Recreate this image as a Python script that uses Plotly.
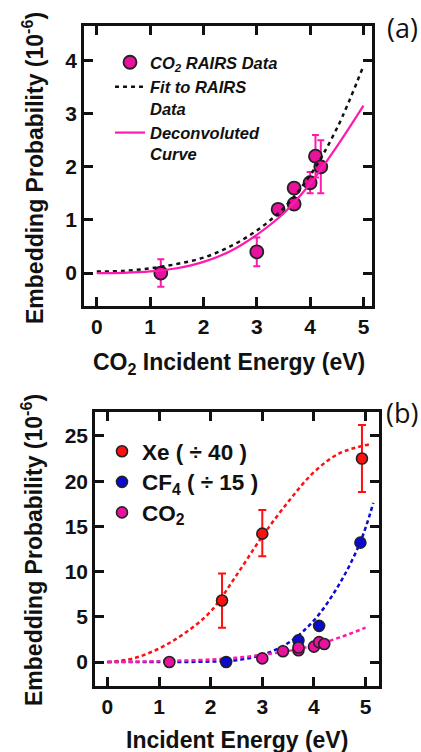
import plotly.graph_objects as go

# ---------------- data ----------------
# Panel (a): CO2 RAIRS data
co2_x = [1.2, 3.0, 3.4, 3.7, 3.7, 4.0, 4.1, 4.2]
co2_y = [0.0, 0.4, 1.2, 1.3, 1.6, 1.7, 2.2, 2.0]
co2_err = [0.26, 0.27, 0.1, 0.1, 0.1, 0.2, 0.4, 0.5]

# fit to RAIRS data (dashed black) and deconvoluted curve (solid magenta)
curve_x = [0, 0.5, 1.0, 1.5, 2.0, 2.5, 3.0, 3.5, 4.0, 4.5, 5.0]
fit_y = [0.03, 0.04, 0.09, 0.17, 0.29, 0.5, 0.8, 1.22, 1.84, 2.72, 3.9]
deconv_y = [0.0, 0.005, 0.03, 0.09, 0.21, 0.41, 0.72, 1.12, 1.68, 2.38, 3.15]

# Panel (b)
xe_x = [2.22, 3.0, 4.93]
xe_y = [6.8, 14.2, 22.5]
xe_err_plus = [3.0, 2.6, 3.7]
xe_err_minus = [3.0, 2.5, 3.7]
xe_fit_x = [0, 0.5, 1.0, 1.5, 2.0, 2.5, 3.0, 3.5, 4.0, 4.5, 5.1]
xe_fit_y = [0.0, 0.4, 1.5, 3.2, 5.6, 9.6, 13.9, 17.7, 21.0, 23.1, 24.1]

cf4_x = [2.3, 3.7, 4.1, 4.9]
cf4_y = [0.0, 2.4, 4.0, 13.2]
cf4_fit_x = [0, 1.0, 2.0, 2.5, 3.0, 3.5, 4.0, 4.5, 4.9, 5.15]
cf4_fit_y = [0.0, 0.0, 0.05, 0.2, 0.8, 2.1, 4.6, 8.7, 13.3, 17.6]

co2b_fit_x = [0, 1.0, 2.0, 2.5, 3.0, 3.5, 4.0, 4.5, 5.0]
co2b_fit_y = [0.0, 0.09, 0.28, 0.48, 0.8, 1.22, 1.84, 2.72, 3.8]

a_xticks = [0, 1, 2, 3, 4, 5]
a_yticks = [0, 1, 2, 3, 4]
b_xticks = [0, 1, 2, 3, 4, 5]
b_yticks = [0, 5, 10, 15, 20, 25]

MAG = "#ff1aad"
MAGM = "#e8129f"
RED = "#ff1010"
BLUE = "#0a0ad0"
FONT = "Liberation Sans"

def big(t):
    return '<span style="font-size:22.5px">' + t + "</span>"

fig = go.Figure()

# ---------- panel (a) ----------
fig.add_trace(go.Scatter(
    x=co2_x, y=co2_y, mode="markers", name="<b><i>CO<sub>2</sub> RAIRS Data</i></b>",
    error_y=dict(type="data", array=co2_err, color=MAG, thickness=2, width=3.5),
    marker=dict(color=MAGM, size=13, line=dict(color="#222", width=1.8)),
    xaxis="x", yaxis="y", legend="legend", showlegend=True))
fig.add_trace(go.Scatter(
    x=curve_x, y=fit_y, mode="lines", name="<b><i>Fit to RAIRS<br>Data</i></b>",
    line=dict(color="#111", width=2.5, dash="4px,4px", shape="spline"),
    xaxis="x", yaxis="y", legend="legend"))
fig.add_trace(go.Scatter(
    x=curve_x, y=deconv_y, mode="lines", name="<b><i>Deconvoluted<br>Curve</i></b>",
    line=dict(color=MAG, width=2.2, shape="spline"),
    xaxis="x", yaxis="y", legend="legend"))

# ---------- panel (b) ----------
fig.add_trace(go.Scatter(
    x=xe_fit_x, y=xe_fit_y, mode="lines", showlegend=False,
    line=dict(color=RED, width=2.5, dash="4px,3px", shape="spline"),
    xaxis="x2", yaxis="y2"))
fig.add_trace(go.Scatter(
    x=cf4_fit_x, y=cf4_fit_y, mode="lines", showlegend=False,
    line=dict(color=BLUE, width=2.5, dash="4px,3px", shape="spline"),
    xaxis="x2", yaxis="y2"))
fig.add_trace(go.Scatter(
    x=co2b_fit_x, y=co2b_fit_y, mode="lines", showlegend=False,
    line=dict(color=MAG, width=2.5, dash="4px,3px", shape="spline"),
    xaxis="x2", yaxis="y2"))
fig.add_trace(go.Scatter(
    x=xe_x, y=xe_y, mode="markers", name=big("Xe ( ÷ 40 )"),
    error_y=dict(type="data", array=xe_err_plus, arrayminus=xe_err_minus,
                 color=RED, thickness=2, width=4),
    marker=dict(color=RED, size=11, line=dict(color="#222", width=1.6)),
    xaxis="x2", yaxis="y2", legend="legend2"))
fig.add_trace(go.Scatter(
    x=cf4_x, y=cf4_y, mode="markers", name=big("CF<sub>4</sub> ( ÷ 15 )"),
    marker=dict(color=BLUE, size=11, line=dict(color="#222", width=1.6)),
    xaxis="x2", yaxis="y2", legend="legend2"))
fig.add_trace(go.Scatter(
    x=co2_x, y=co2_y, mode="markers", name=big("CO<sub>2</sub>"),
    marker=dict(color=MAGM, size=11, line=dict(color="#222", width=1.6)),
    xaxis="x2", yaxis="y2", legend="legend2"))

W, H = 421, 752

def axis_common():
    return dict(
        showline=True, linecolor="#111", linewidth=2.5, mirror="ticks",
        ticks="inside", ticklen=9, tickwidth=2.5, tickcolor="#111",
        showgrid=False, zeroline=False,
        tickfont=dict(family=FONT, size=21, color="#111", weight="bold"),
    )

fig.update_layout(
    width=W, height=H,
    margin=dict(l=0, r=0, t=0, b=0),
    paper_bgcolor="white", plot_bgcolor="white",
    xaxis=dict(domain=[84 / W, 372 / W], anchor="y", range=[-0.24, 5.16],
               tickvals=a_xticks, **axis_common()),
    yaxis=dict(domain=[1 - 306 / H, 1 - 26 / H], anchor="x", range=[-0.62, 4.65],
               tickvals=a_yticks, **axis_common()),
    xaxis2=dict(domain=[95 / W, 379 / W], anchor="y2", range=[-0.24, 5.26],
                tickvals=b_xticks, **axis_common()),
    yaxis2=dict(domain=[1 - 686 / H, 1 - 412 / H], anchor="x2", range=[-2.65, 27.65],
                tickvals=b_yticks, **axis_common()),
    legend=dict(x=110 / W, y=1 - 45 / H, xanchor="left", yanchor="top",
                bgcolor="rgba(0,0,0,0)", valign="top", tracegroupgap=0,
                font=dict(family=FONT, size=16.5, color="#111")),
    legend2=dict(x=102 / W, y=1 - 431 / H, xanchor="left", yanchor="top",
                 bgcolor="rgba(0,0,0,0)", itemsizing="trace", tracegroupgap=0,
                 font=dict(family=FONT, size=21.2, color="#111", weight="bold")),
    showlegend=True,
)

ann_font = dict(family=FONT, size=23, color="#111", weight="bold")
fig.add_annotation(text="CO<sub>2</sub> Incident Energy (eV)", x=229 / W, y=1 - 363 / H,
                   xref="paper", yref="paper", showarrow=False, font=ann_font,
                   xanchor="center", yanchor="middle")
fig.add_annotation(text="Embedding Probability (10<sup>-6</sup>)", x=33 / W, y=1 - 168 / H,
                   xref="paper", yref="paper", showarrow=False, font=ann_font,
                   textangle=-90, xanchor="center", yanchor="middle")
fig.add_annotation(text="Incident Energy (eV)", x=237 / W, y=1 - 740 / H,
                   xref="paper", yref="paper", showarrow=False, font=ann_font,
                   xanchor="center", yanchor="middle")
fig.add_annotation(text="Embedding Probability (10<sup>-6</sup>)", x=32 / W, y=1 - 550 / H,
                   xref="paper", yref="paper", showarrow=False, font=ann_font,
                   textangle=-90, xanchor="center", yanchor="middle")
fig.add_annotation(text="(a)", x=402 / W, y=1 - 27 / H, xref="paper", yref="paper",
                   showarrow=False, font=dict(family="Open Sans", size=27, color="#111"),
                   xanchor="center", yanchor="middle")
fig.add_annotation(text="(b)", x=402 / W, y=1 - 412 / H, xref="paper", yref="paper",
                   showarrow=False, font=dict(family="Open Sans", size=27, color="#111"),
                   xanchor="center", yanchor="middle")

fig.write_html(
    "out.html",
    config={"displayModeBar": False},
    post_script="document.body.style.margin='0';document.body.style.overflow='hidden';",
)
